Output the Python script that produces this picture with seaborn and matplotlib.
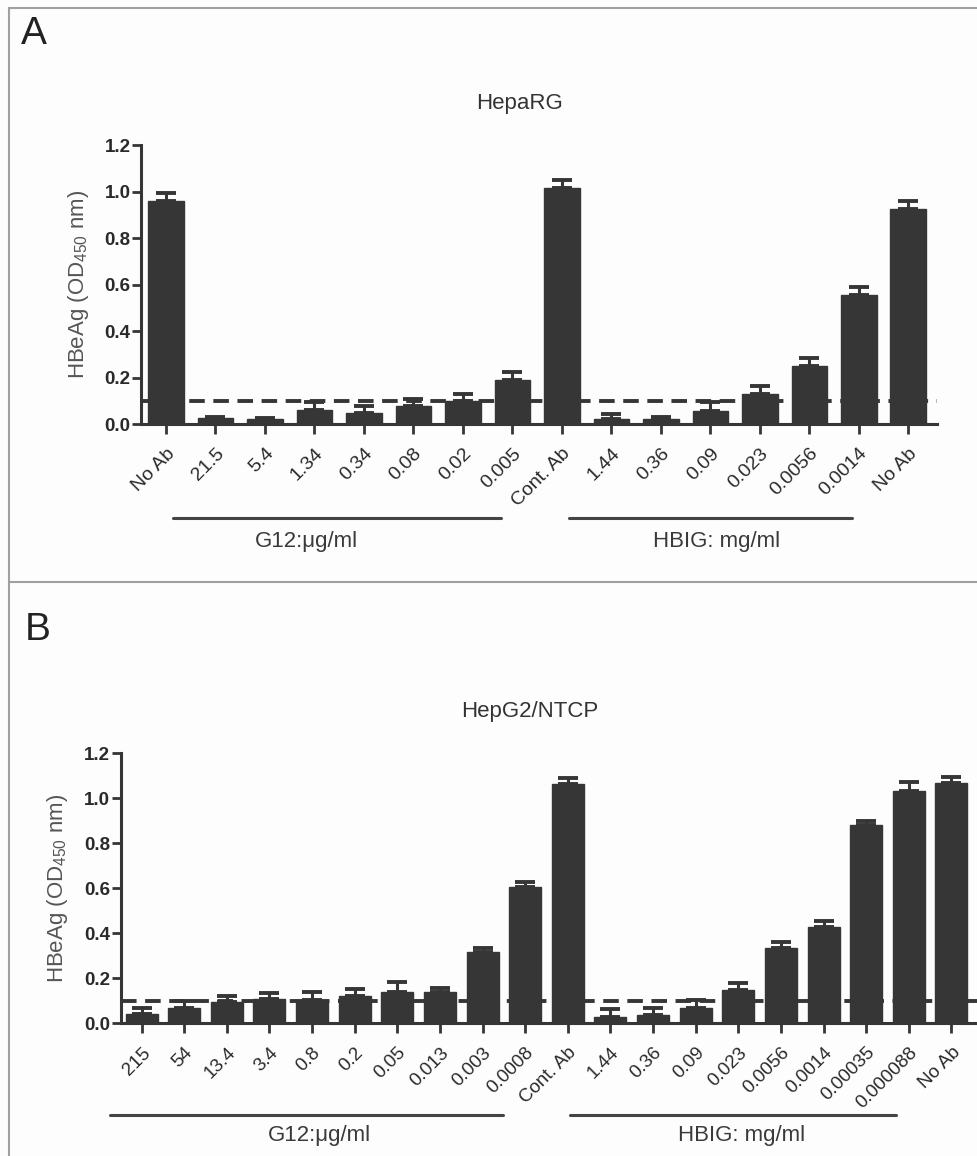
## HBeAg bar charts: HepaRG (A) and HepG2/NTCP (B)
import numpy as np
import pandas as pd
import matplotlib
matplotlib.use("Agg")
import matplotlib.pyplot as plt
import matplotlib.transforms as mtrans
from matplotlib.lines import Line2D
import seaborn as sns

# panel A data (mean OD450 and upper error)
a_labels = ["No Ab", "21.5", "5.4", "1.34", "0.34", "0.08", "0.02", "0.005", "Cont. Ab",
            "1.44", "0.36", "0.09", "0.023", "0.0056", "0.0014", "No Ab"]
a_od = [0.958, 0.025, 0.022, 0.062, 0.046, 0.077, 0.100, 0.189, 1.014,
        0.021, 0.022, 0.058, 0.130, 0.250, 0.553, 0.924]
a_err = [0.034, 0.005, 0.005, 0.034, 0.032, 0.032, 0.030, 0.034, 0.035,
         0.020, 0.006, 0.038, 0.034, 0.032, 0.036, 0.034]

# panel B data
b_labels = ["215", "54", "13.4", "3.4", "0.8", "0.2", "0.05", "0.013", "0.003", "0.0008",
            "Cont. Ab", "1.44", "0.36", "0.09", "0.023", "0.0056", "0.0014", "0.00035",
            "0.000088", "No Ab"]
b_od = [0.041, 0.069, 0.093, 0.107, 0.105, 0.121, 0.140, 0.140, 0.315, 0.607,
        1.062, 0.030, 0.035, 0.070, 0.148, 0.333, 0.427, 0.881, 1.032, 1.067]
b_err = [0.028, 0.031, 0.030, 0.028, 0.035, 0.031, 0.045, 0.018, 0.021, 0.020,
         0.030, 0.032, 0.032, 0.034, 0.030, 0.030, 0.029, 0.018, 0.039, 0.029]

cutoff = 0.1
bar_col = "#363636"
txt_col = "#2a2a2a"

sns.set_style("ticks")
plt.rcParams["font.family"] = ["Liberation Sans", "DejaVu Sans"]
plt.rcParams["mathtext.default"] = "regular"

fig = plt.figure(figsize=(9.77, 11.56), dpi=100, facecolor="#fdfdfd")

# frame lines around the panels
fig.add_artist(Line2D([9/977, 1], [1-8/1156, 1-8/1156], color="#a0a0a0", lw=1.5))
fig.add_artist(Line2D([9/977, 9/977], [0, 1-8/1156], color="#a0a0a0", lw=1.5))
fig.add_artist(Line2D([9/977, 1], [1-582/1156, 1-582/1156], color="#a0a0a0", lw=1.5))


def draw_panel(ax, labels, od, err, width, xlim, tick_fs, groups, group_y):
    df = pd.DataFrame({"pos": np.arange(len(od)), "od": od})
    ax.axhline(cutoff, color=bar_col, lw=2.8, dashes=(4, 2.2), zorder=1)
    sns.barplot(data=df, x="pos", y="od", color=bar_col, width=width,
                saturation=1, edgecolor=bar_col, linewidth=1, ax=ax, zorder=2)
    ax.errorbar(df["pos"], df["od"], yerr=[np.zeros(len(err)), err], fmt="none",
                ecolor=bar_col, elinewidth=2.2, capsize=7.5, capthick=2.8, zorder=3)
    ax.set_facecolor("none")
    ax.set_xlim(*xlim)
    ax.set_ylim(0, 1.2)
    ax.set_yticks([0, 0.2, 0.4, 0.6, 0.8, 1.0, 1.2])
    ax.set_yticklabels(["0.0", "0.2", "0.4", "0.6", "0.8", "1.0", "1.2"],
                       fontsize=13.5, fontweight="bold", color=txt_col)
    ax.set_xticks(df["pos"])
    ax.set_xticklabels(labels, rotation=45, ha="right", va="top",
                       rotation_mode="anchor", fontsize=tick_fs, color=txt_col)
    shift = mtrans.ScaledTranslation(5/100, 0, fig.dpi_scale_trans)
    for lab in ax.get_xticklabels():
        lab.set_transform(lab.get_transform() + shift)
    ax.tick_params(axis="x", length=7, width=2, pad=8, color=bar_col)
    ax.tick_params(axis="y", length=6.5, width=2, pad=1, color=bar_col)
    ax.set_xlabel("")
    ax.set_ylabel("HBeAg (OD$_{450}$ nm)", fontsize=16, color="#555555")
    sns.despine(ax=ax)
    for s in ["left", "bottom"]:
        ax.spines[s].set_linewidth(2.2)
        ax.spines[s].set_color(bar_col)
    # treatment group underlines
    tr = mtrans.blended_transform_factory(ax.transData, ax.transAxes)
    for x0, x1, xm, text in groups:
        ax.plot([x0, x1], [group_y[0], group_y[0]], color="#444444", lw=2.2,
                transform=tr, clip_on=False)
        ax.text(xm, group_y[1], text, transform=tr, ha="center", va="center",
                fontsize=16, color="#3a3a3a")


# panel A
ax1 = fig.add_axes([141/977, 1-424/1156, 796/977, 279/1156])
draw_panel(ax1, a_labels, a_od, a_err, 0.72, (-0.505, 15.58), 14,
           [(0.135, 6.77, 2.84, "G12:μg/ml"), (8.14, 13.86, 11.13, "HBIG: mg/ml")],
           (-0.336, -0.422))
ax1.yaxis.set_label_coords(-0.063, 0.5)

# panel B
ax2 = fig.add_axes([120.7/977, 1-1023.3/1156, 856.3/977, 270/1156])
draw_panel(ax2, b_labels, b_od, b_err, 0.75, (-0.49, 19.6), 13.5,
           [(-0.744, 8.47, 4.18, "G12:μg/ml"), (10.05, 17.71, 14.08, "HBIG: mg/ml")],
           (-0.34, -0.414))
ax2.yaxis.set_label_coords(-0.059, 0.5)

fig.text(34/977, 1-34/1156, "A", fontsize=28, ha="center", va="center", color="#222222")
fig.text(38/977, 1-630/1156, "B", fontsize=28, ha="center", va="center", color="#222222")
fig.text(519/977, 1-104/1156, "HepaRG", fontsize=16, ha="center", va="center", color="#333333")
fig.text(530/977, 1-712/1156, "HepG2/NTCP", fontsize=16, ha="center", va="center", color="#333333")

plt.savefig("out.png", dpi=100, facecolor=fig.get_facecolor())
